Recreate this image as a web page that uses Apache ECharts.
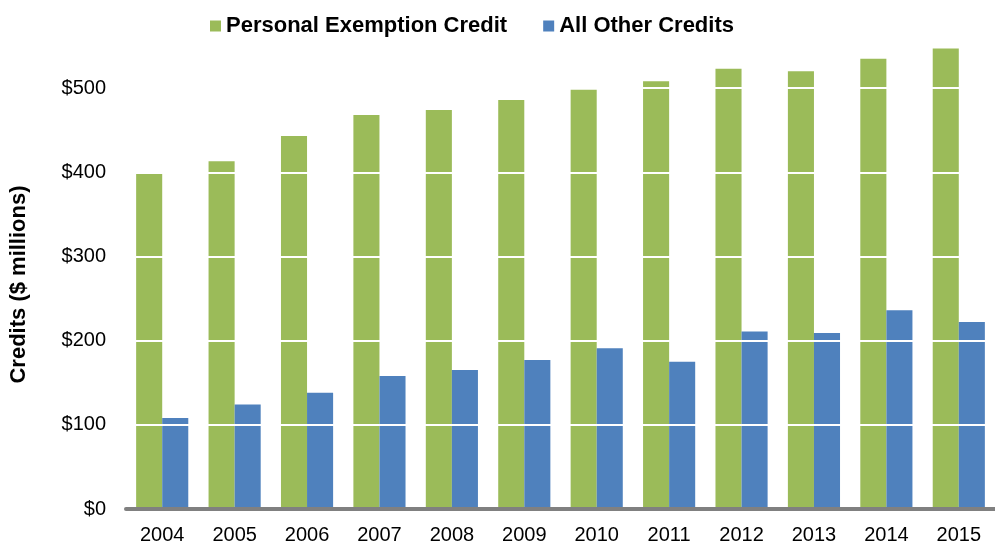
<!DOCTYPE html>
<html>
<head>
<meta charset="utf-8">
<script src="https://cdn.jsdelivr.net/npm/echarts@6/dist/echarts.min.js"></script>
<style>
  html, body { margin: 0; padding: 0; background: #fff; }
  #chart { width: 995px; height: 546px; }
</style>
</head>
<body>
<div id="chart"></div>
<script>
// data
var years = ['2004', '2005', '2006', '2007', '2008', '2009', '2010', '2011', '2012', '2013', '2014', '2015'];
var personalExemption = [398, 413, 443, 468, 474, 486, 498, 508, 523, 520, 535, 547];
var allOther = [108, 124, 138, 158, 165, 177, 191, 175, 211, 209, 236, 222];
var yTicks = [0, 100, 200, 300, 400, 500];

var chart = echarts.init(document.getElementById('chart'));

var option = {
    animation: false,
    backgroundColor: '#fff',
    textStyle: { fontFamily: 'Liberation Sans, Arial, sans-serif' },
    legend: {
        top: 10,
        left: 205,
        itemWidth: 11,
        itemHeight: 11,
        itemGap: 36,
        icon: 'rect',
        selectedMode: false,
        textStyle: { fontSize: 22, fontWeight: 'bold', color: '#000' },
        data: ['Personal Exemption Credit', 'All Other Credits']
    },
    grid: {
        left: 120,
        top: 46,
        width: 885,
        bottom: 37,
        containLabel: false
    },
    xAxis: {
        type: 'category',
        data: years,
        z: 5,
        axisLine: { lineStyle: { color: '#808080', width: 4 } },
        axisTick: { show: false },
        axisLabel: { fontSize: 20, color: '#000', margin: 16 }
    },
    yAxis: {
        type: 'value',
        min: 0,
        max: 550,
        interval: 100,
        z: 4,
        name: 'Credits ($ millions)',
        nameLocation: 'middle',
        nameGap: 96,
        nameTextStyle: { fontSize: 22, fontWeight: 'bold', color: '#000', padding: [0, 14, 0, 0] },
        axisLine: { show: false },
        axisTick: { show: false },
        axisLabel: {
            fontSize: 20,
            color: '#000',
            margin: 20,
            showMaxLabel: false,
            formatter: function(v) {
                return yTicks.indexOf(v) >= 0 ? '$' + v : '';
            }
        },
        splitLine: { show: true, lineStyle: { color: '#fff', width: 2 } }
    },
    series: [
        {
            name: 'Personal Exemption Credit',
            type: 'bar',
            data: personalExemption,
            barGap: '0%',
            barCategoryGap: '28%',
            itemStyle: { color: '#9BBB59' }
        },
        {
            name: 'All Other Credits',
            type: 'bar',
            data: allOther,
            itemStyle: { color: '#4F81BD' }
        }
    ]
};

chart.setOption(option);
</script>
</body>
</html>
